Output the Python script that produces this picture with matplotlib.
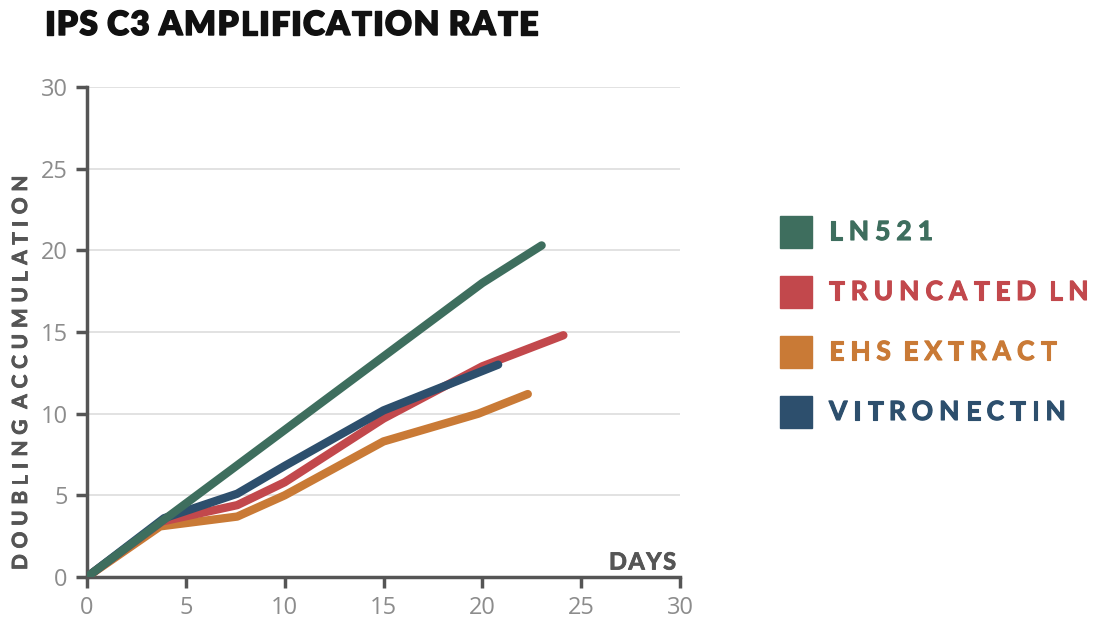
import matplotlib
matplotlib.use("Agg")
import matplotlib.pyplot as plt
from matplotlib.patches import Rectangle
import matplotlib.patheffects as pe

plt.rcParams['font.family'] = ['Lato', 'DejaVu Sans']

# data
ln521_days = [0, 4, 20, 23]
ln521_vals = [0, 3.6, 18.0, 20.3]
trunc_days = [0, 3.8, 7.6, 10, 15, 20, 24.1]
trunc_vals = [0, 3.4, 4.4, 5.8, 9.7, 12.9, 14.8]
ehs_days = [0, 3.7, 7.6, 10, 15, 19.8, 22.3]
ehs_vals = [0, 3.1, 3.7, 5.0, 8.3, 10.0, 11.2]
vitro_days = [0, 3.9, 7.6, 10, 15, 20.8]
vitro_vals = [0, 3.6, 5.1, 6.8, 10.2, 13.0]

names = ["LN521", "TRUNCATED LN", "EHS EXTRACT", "VITRONECTIN"]
colors = ["#3e6e5e", "#c2484c", "#c97a36", "#2d4f6d"]
yticks = [0, 5, 10, 15, 20, 25, 30]
xticks = [0, 5, 10, 15, 20, 25, 30]

W, H = 1103, 632
fig = plt.figure(figsize=(W / 100, H / 100), dpi=100)
renderer = fig.canvas.get_renderer()


def text_w(s, **kw):
    probe = fig.text(0, 0, s + "x", **kw)
    w = probe.get_window_extent(renderer).width
    probe.set_text("x")
    w -= probe.get_window_extent(renderer).width
    probe.remove()
    return w


def tracked(x, y, s, track, vertical=False, stroke=0, **kw):
    # letter spaced text, pixel coords (from bottom-left)
    effects = [pe.withStroke(linewidth=stroke, foreground=kw['color'])] if stroke else None
    n = 0
    for i, ch in enumerate(s):
        off = text_w(s[:i], **kw) + n * track if i else 0
        if ch != " ":
            n += 1
        if vertical:
            t = fig.text(x / W, (y + off) / H, ch, rotation=90, ha='left', va='center',
                         rotation_mode='anchor', **kw)
        else:
            t = fig.text((x + off) / W, y / H, ch, ha='left', va='center', **kw)
        if effects:
            t.set_path_effects(effects)


ax = fig.add_axes([87 / W, 55 / H, 593 / W, 490 / H])

# draw order: orange, red, blue, green on top
series = [(ehs_days, ehs_vals, colors[2]),
          (trunc_days, trunc_vals, colors[1]),
          (vitro_days, vitro_vals, colors[3]),
          (ln521_days, ln521_vals, colors[0])]
for d, v, c in series:
    ax.plot(d, v, color=c, lw=6, solid_capstyle='round', solid_joinstyle='round', zorder=3)

ax.set_xlim(0, 30)
ax.set_ylim(0, 30)
ax.set_xticks(xticks)
ax.set_yticks(yticks)
ax.yaxis.grid(True, color='#dddddd', lw=1.2)
ax.set_axisbelow(True)
for s in ['top', 'right']:
    ax.spines[s].set_visible(False)
for s in ['left', 'bottom']:
    ax.spines[s].set_color('#555555')
    ax.spines[s].set_linewidth(2.5)
ax.tick_params(axis='both', colors='#555555', width=2.5, length=8,
               labelsize=17, labelcolor='#8c8c8c', pad=6)
for lbl in ax.get_xticklabels() + ax.get_yticklabels():
    lbl.set_fontfamily('Open Sans')

# y label, letter spaced, bottom-to-top
tracked(21, 62, "DOUBLING ACCUMULATION", 5.8, vertical=True, stroke=0.6,
        fontsize=15, fontweight='bold', color='#555555')
tracked(609, H - 562, "DAYS", 1.5, stroke=0.6, fontsize=17, fontweight='bold', color='#555555')
tracked(45, H - 25, "IPS C3 AMPLIFICATION RATE", 1.4, stroke=1.0,
        fontsize=24, fontweight='heavy', color='#111111')

# legend
ys = [232, 292, 352, 412]
for name, c, y in zip(names, colors, ys):
    fy = 1 - y / H
    fig.patches.append(Rectangle((780 / W, fy - 16 / H), 32 / W, 32 / H,
                                 transform=fig.transFigure, color=c))
    tracked(829, H - y, name, 6.0, stroke=0.8, fontsize=19, fontweight='bold', color=c)

fig.savefig("out.png", dpi=100)
